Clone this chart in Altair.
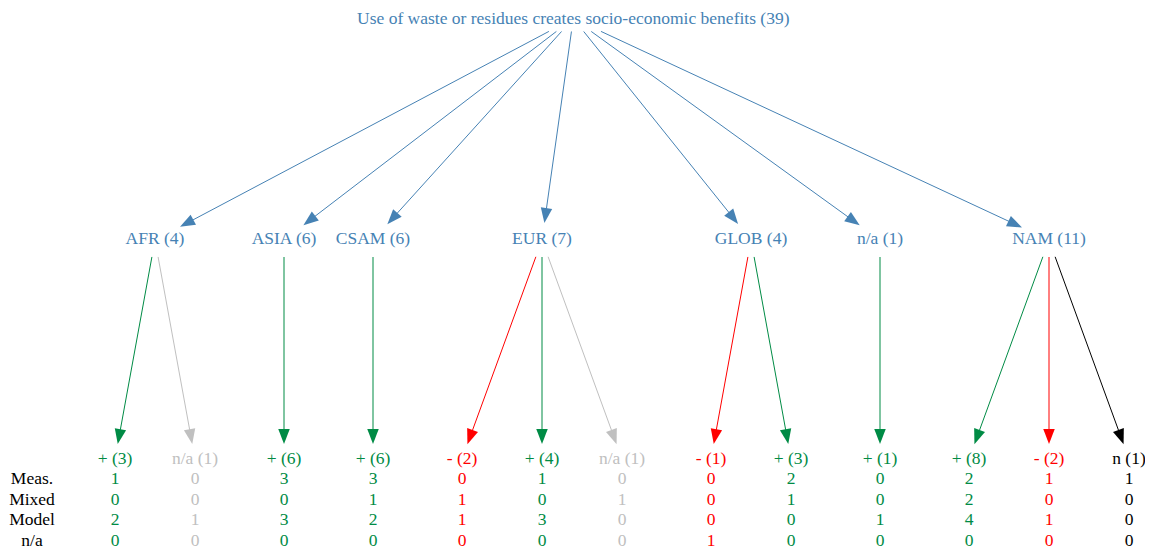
import math
import altair as alt
import pandas as pd

# ---------------- data ----------------
ROOT_LABEL = "Use of waste or residues creates socio-economic benefits"
ROOT_COUNT = 39

regions = ["AFR", "ASIA", "CSAM", "EUR", "GLOB", "n/a", "NAM"]
region_counts = [4, 6, 6, 7, 4, 1, 11]

leaf_region = ["AFR", "AFR", "ASIA", "CSAM", "EUR", "EUR", "EUR",
               "GLOB", "GLOB", "n/a", "NAM", "NAM", "NAM"]
leaf_sign = ["+", "n/a", "+", "+", "-", "+", "n/a", "-", "+", "+", "+", "-", "n"]
leaf_count = [3, 1, 6, 6, 2, 4, 1, 1, 3, 1, 8, 2, 1]

row_labels = ["Meas.", "Mixed", "Model", "n/a"]
meas = [1, 0, 3, 3, 0, 1, 0, 0, 2, 0, 2, 1, 1]
mixed = [0, 0, 0, 1, 1, 0, 1, 0, 1, 0, 2, 0, 0]
model = [2, 1, 3, 2, 1, 3, 0, 0, 0, 1, 4, 1, 0]
na = [0, 0, 0, 0, 0, 0, 0, 1, 0, 0, 0, 0, 0]
table_rows = [meas, mixed, model, na]

# ---------------- styles / layout constants ----------------
BLUE = "#4682B4"
SIGN_COLORS = {"+": "#008B45", "-": "#FF0000", "n/a": "#C0C0C0", "n": "#000000"}
FONT = "Liberation Serif"
FONT_SIZE = 17.5

X0 = 115          # first leaf column
WITHIN = 80       # spacing of leaves sharing a parent
BETWEEN = 89      # spacing between leaf groups
Y_ROOT, Y_REG, Y_LEAF = 18.5, 240, 459
Y_ROW0, ROW_STEP = 479, 20.5
ROW_LABEL_X = 32
ARROW_LEN = 15
ROOT_AB = (215, 13)
REG_AB = (40, 17)
LEAF_AB = (40, 15)

# leaf x positions (layout)
leaf_x = []
for i, r in enumerate(leaf_region):
    if i == 0:
        leaf_x.append(X0)
    else:
        leaf_x.append(leaf_x[-1] + (WITHIN if r == leaf_region[i - 1] else BETWEEN))

region_x = {}
for r in regions:
    xs_ = [x for x, lr in zip(leaf_x, leaf_region) if lr == r]
    region_x[r] = sum(xs_) / len(xs_)
root_x = sum(region_x.values()) / len(region_x) - 3


def clip(cx, cy, tx, ty, ab):
    a, b = ab
    dx, dy = tx - cx, ty - cy
    t = 1.0 / math.sqrt((dx / a) ** 2 + (dy / b) ** 2)
    return cx + dx * t, cy + dy * t


edges, heads = [], []


def add_edge(src, src_ab, dst, dst_ab, color):
    sx, sy = clip(src[0], src[1], dst[0], dst[1], src_ab)
    ex, ey = clip(dst[0], dst[1], src[0], src[1], dst_ab)
    L = math.hypot(ex - sx, ey - sy)
    ux, uy = (ex - sx) / L, (ey - sy) / L
    edges.append(dict(x=sx, y=sy, x2=ex - ux * (ARROW_LEN - 1), y2=ey - uy * (ARROW_LEN - 1), color=color))
    heads.append(dict(x=ex, y=ey, angle=math.degrees(math.atan2(ux, -uy)) % 360, color=color))


for r in regions:
    add_edge((root_x, Y_ROOT), ROOT_AB, (region_x[r], Y_REG), REG_AB, BLUE)
for x, r, s in zip(leaf_x, leaf_region, leaf_sign):
    add_edge((region_x[r], Y_REG), REG_AB, (x, Y_LEAF), LEAF_AB, SIGN_COLORS[s])

texts = [dict(x=root_x, y=Y_ROOT, text=f"{ROOT_LABEL} ({ROOT_COUNT})", color=BLUE)]
for r, c in zip(regions, region_counts):
    texts.append(dict(x=region_x[r], y=Y_REG - 1, text=f"{r} ({c})", color=BLUE))
for x, s, c in zip(leaf_x, leaf_sign, leaf_count):
    texts.append(dict(x=x, y=Y_LEAF, text=f"{s} ({c})", color=SIGN_COLORS[s]))
for k, (lab, vals) in enumerate(zip(row_labels, table_rows)):
    y = Y_ROW0 + k * ROW_STEP
    texts.append(dict(x=ROW_LABEL_X, y=y, text=lab, color="#000000"))
    for x, s, v in zip(leaf_x, leaf_sign, vals):
        texts.append(dict(x=x, y=y, text=str(v), color=SIGN_COLORS[s]))

# ---------------- chart ----------------
PAD_TOP, PAD_BOTTOM = 6, 8
W, H = 1137, 536 - PAD_TOP
Y_START = 8 + PAD_TOP
xs = alt.Scale(domain=[8, 8 + W], nice=False, zero=False)
ys = alt.Scale(domain=[Y_START, Y_START + H], nice=False, zero=False, reverse=True)

rules = alt.Chart(pd.DataFrame(edges)).mark_rule(strokeWidth=1).encode(
    x=alt.X("x:Q", scale=xs, axis=None),
    y=alt.Y("y:Q", scale=ys, axis=None),
    x2="x2:Q",
    y2="y2:Q",
    color=alt.Color("color:N", scale=None),
)

ARROW_PATH = "M0,0L1.15,3L-1.15,3Z"
arrows = alt.Chart(pd.DataFrame(heads)).mark_point(
    shape=ARROW_PATH, filled=True, size=100, opacity=1, strokeWidth=0
).encode(
    x=alt.X("x:Q", scale=xs, axis=None),
    y=alt.Y("y:Q", scale=ys, axis=None),
    angle=alt.Angle("angle:Q", scale=None),
    color=alt.Color("color:N", scale=None),
)

labels = alt.Chart(pd.DataFrame(texts)).mark_text(
    font=FONT, fontSize=FONT_SIZE, align="center", baseline="middle"
).encode(
    x=alt.X("x:Q", scale=xs, axis=None),
    y=alt.Y("y:Q", scale=ys, axis=None),
    text="text:N",
    color=alt.Color("color:N", scale=None),
)

chart = alt.layer(rules, arrows, labels).properties(
    width=W, height=H, autosize=alt.AutoSizeParams(type="none"),
    padding={"left": 0, "top": PAD_TOP, "right": 0, "bottom": PAD_BOTTOM}
).configure_view(stroke=None)

chart.save("out.html", embed_options={"renderer": "svg", "actions": False})
